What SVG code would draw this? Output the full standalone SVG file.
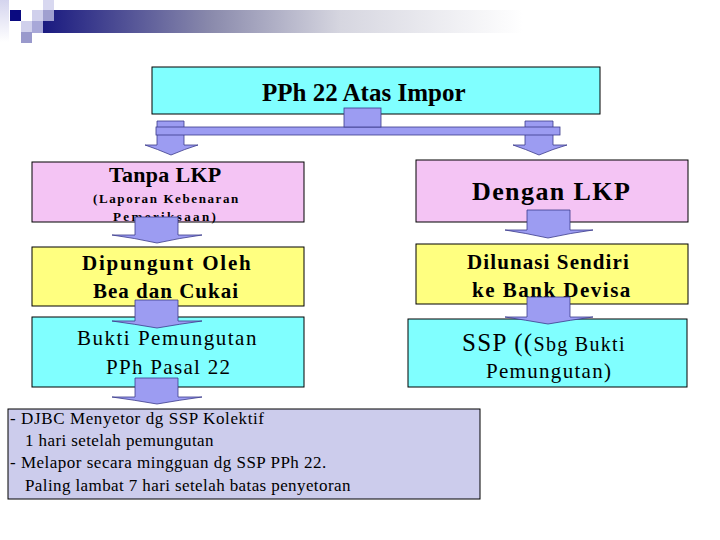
<svg xmlns="http://www.w3.org/2000/svg" width="720" height="540" viewBox="0 0 720 540">
<defs>
<linearGradient id="bar" x1="0" y1="0" x2="1" y2="0">
<stop offset="0" stop-color="#1a1a80"/>
<stop offset="0.35" stop-color="#8a8aac"/>
<stop offset="0.62" stop-color="#d6d6e0"/>
<stop offset="1" stop-color="#ffffff"/>
</linearGradient>
<linearGradient id="strip" x1="0" y1="0" x2="0" y2="1">
<stop offset="0" stop-color="#d4d4ee"/>
<stop offset="1" stop-color="#ffffff"/>
</linearGradient>
</defs>
<style>
.box{stroke:#000;stroke-width:1}
.pink{fill:#f4c4f4}.yel{fill:#ffff80}.cyan{fill:#80ffff}.lav{fill:#ccccec}
.arr{fill:#9c9cf2;stroke:#3a3a8a;stroke-width:0.8}
</style>
<rect width="720" height="540" fill="#fff"/>
<g id="decor">
<rect x="0" y="0" width="9" height="42" fill="url(#strip)"/>
<rect x="43" y="10" width="480" height="23" fill="url(#bar)"/>
<rect x="10" y="10" width="11" height="11" fill="#0a0a80"/>
<rect x="32" y="10" width="11" height="11" fill="#d0d0ec"/>
<rect x="43" y="0" width="11" height="10" fill="#d8d8f0"/>
<rect x="43" y="10" width="11" height="11" fill="#a0a0d0"/>
<rect x="21" y="21" width="11" height="11" fill="#d0d0ec"/>
<rect x="32" y="21" width="11" height="12" fill="#a8a8d8"/>
<rect x="21" y="32" width="11" height="11" fill="#9999cc"/>
</g>
<g id="main">
<rect class="box cyan" x="152" y="67" width="448" height="47"/>
<text x="262" y="101" font-size="25" font-weight="bold" font-family="'Liberation Serif', serif">PPh 22 Atas Impor</text>
</g>
<g id="tanpa">
<rect class="box pink" x="32" y="162" width="272" height="60"/>
<text x="109" y="182" font-size="22" font-weight="bold" font-family="'Liberation Serif', serif" letter-spacing="0.3">Tanpa LKP</text>
<text x="93" y="203" font-size="13" font-weight="bold" font-family="'Liberation Serif', serif" letter-spacing="1.6">(Laporan Kebenaran</text>
<text x="113" y="221" font-size="13" font-weight="bold" font-family="'Liberation Serif', serif" letter-spacing="2.4">Pemeriksaan)</text>
</g>
<g id="dengan">
<rect class="box pink" x="416" y="160" width="272" height="62"/>
<text x="472" y="200" font-size="26" font-weight="bold" font-family="'Liberation Serif', serif" letter-spacing="1.4">Dengan LKP</text>
</g>
<g id="dipungut">
<rect class="box yel" x="32" y="247" width="272" height="59"/>
<text x="82" y="270" font-size="21" font-weight="bold" font-family="'Liberation Serif', serif" letter-spacing="1.8">Dipungunt Oleh</text>
<text x="93" y="298" font-size="21" font-weight="bold" font-family="'Liberation Serif', serif" letter-spacing="1">Bea dan Cukai</text>
</g>
<g id="dilunasi">
<rect class="box yel" x="416" y="244" width="272" height="60"/>
<text x="467" y="269" font-size="21" font-weight="bold" font-family="'Liberation Serif', serif" letter-spacing="1.1">Dilunasi Sendiri</text>
<text x="472" y="297" font-size="21" font-weight="bold" font-family="'Liberation Serif', serif" letter-spacing="1.5">ke Bank Devisa</text>
</g>
<g id="bukti">
<rect class="box cyan" x="32" y="317" width="272" height="70"/>
<text x="77" y="345" font-size="21" font-family="'Liberation Serif', serif" letter-spacing="1.5">Bukti Pemungutan</text>
<text x="106" y="374" font-size="21" font-family="'Liberation Serif', serif" letter-spacing="1.3">PPh Pasal 22</text>
</g>
<g id="ssp">
<rect class="box cyan" x="408" y="319" width="279" height="68"/>
<text x="462" y="351" font-size="25" font-family="'Liberation Serif', serif" letter-spacing="1.3">SSP ((<tspan font-size="20">Sbg Bukti</tspan></text>
<text x="486" y="378" font-size="21" font-family="'Liberation Serif', serif" letter-spacing="1.3">Pemungutan)</text>
</g>
<g id="catatan">
<rect class="box lav" x="8" y="409" width="472" height="90"/>
<text x="10" y="424" font-size="17" font-family="'Liberation Serif', serif" letter-spacing="0.6">- DJBC Menyetor dg SSP Kolektif</text>
<text x="25" y="446" font-size="17" font-family="'Liberation Serif', serif" letter-spacing="0.4">1 hari setelah pemungutan</text>
<text x="10" y="468" font-size="17" font-family="'Liberation Serif', serif" letter-spacing="0.5">- Melapor secara mingguan dg SSP PPh 22.</text>
<text x="25" y="491" font-size="17" font-family="'Liberation Serif', serif" letter-spacing="0.4">Paling lambat 7 hari setelah batas penyetoran</text>
</g>
<g id="connectors">
<path class="arr" d="M157,121 H184 V145 H198 Q185,149 171,155 Q157,149 145,145 H157 Z"/>
<path class="arr" d="M525,121 H553 V145 H567 Q553,149 539,155 Q525,149 513,145 H525 Z"/>
<rect class="arr" x="156" y="127" width="404" height="8"/>
<rect class="arr" x="344" y="108" width="37" height="19" stroke="#1a1a60"/>
<path class="arr" d="M135,217 H178 V235 H202 Q180,238 157,243 Q134,238 112,235 H135 Z"/>
<path class="arr" d="M135,300 H178 V321 H202 Q180,324 157,328 Q134,324 112,321 H135 Z"/>
<path class="arr" d="M135,378 H178 V397 H202 Q180,400 157,404 Q134,400 112,397 H135 Z"/>
<path class="arr" d="M527,210 H570 V230 H593 Q571,233 548,238 Q525,233 505,230 H527 Z"/>
<path class="arr" d="M527,297 H570 V317 H593 Q571,320 548,324 Q525,320 505,317 H527 Z"/>
</g>
</svg>
